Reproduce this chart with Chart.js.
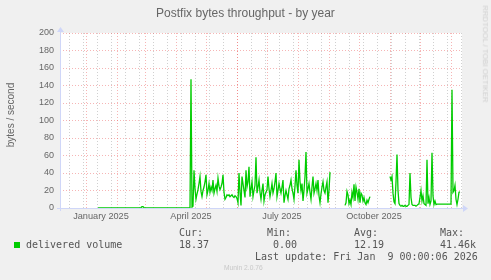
<!DOCTYPE html>
<html><head><meta charset="utf-8">
<script src="https://cdn.jsdelivr.net/npm/chart.js@4/dist/chart.umd.min.js"></script>
<style>
html,body{margin:0;padding:0;background:#f0f0f0;}
#wrap{position:relative;width:491px;height:280px;overflow:hidden;background:#f0f0f0;}
canvas{position:absolute;left:0;top:0;}
.t{position:absolute;white-space:pre;line-height:1;color:#666;}
.s{font-family:"Liberation Sans",Arial,sans-serif;}
.m{font-family:"DejaVu Sans Mono",monospace;font-size:10px;color:#555;}
</style></head><body>
<div id="wrap">
<canvas id="c" width="491" height="280"></canvas>
<div class="t s" style="left:0;width:491px;text-align:center;top:6.5px;font-size:12px;">Postfix bytes throughput - by year</div>
<div class="t s" style="left:10.5px;top:115px;font-size:10px;transform:translate(-50%,-50%) rotate(-90deg);">bytes / second</div>
<div class="t s" style="left:485px;top:54px;font-size:7.7px;color:#cfcfcf;transform:translate(-50%,-50%) rotate(90deg);">RRDTOOL / TOBI OETIKER</div>
<div style="position:absolute;left:14px;top:242px;width:6px;height:6px;background:#00cc00;"></div>
<div class="t m" id="lgName" style="left:26px;top:240px;"></div>
<div class="t m" style="left:179px;top:228px;">Cur:</div>
<div class="t m" style="left:267px;top:228px;">Min:</div>
<div class="t m" style="left:354px;top:228px;">Avg:</div>
<div class="t m" style="left:440px;top:228px;">Max:</div>
<div class="t m" id="vCur" style="left:179px;top:240px;"></div>
<div class="t m" id="vMin" style="left:273px;top:240px;"></div>
<div class="t m" id="vAvg" style="left:354px;top:240px;"></div>
<div class="t m" id="vMax" style="left:440px;top:240px;"></div>
<div class="t m" style="left:255px;top:252px;">Last update: Fri Jan  9 00:00:06 2026</div>
<div class="t s" style="left:224px;top:265px;font-size:6.7px;color:#c8c8c8;">Munin 2.0.76</div>
</div>
<script>
// ---- data (one value per day, starting at firstDay days after 2024-12-06) ----
const seriesName = 'delivered volume';
const seriesColor = '#00cc00';
const firstDay = 38;
const zerosJanToMar = [
  0,0,0,0,0,0,0,0,0,0, 0,0,0,0,0,0,0,0,0,0, 0,0,0,0,0,0,0,0,0,0, 0,0,0,0,0,0,0,0,0,0, 0,0,0,
  0.5,1.5,1.5,0.5,
  0,0,0,0,0,0,0,0,0,0, 0,0,0,0,0,0,0,0,0,0, 0,0,0,0,0,0,0,0,0,0, 0,0,0,0,0,0,0,0,0,0, 0,0,0,0,0,0
];
const aprToAug = [
  147,1,2,43,22,10,16,21,28,36,
  19,13,20,24,30,38,15,20,28,18,
  24,20,32,17,22,26,19,34,25,21,
  24,28,38,18,10,12,15,14,15,13,
  14,15,13,12,14,13,11,6,40,18,
  3,36,28,20,12,43,24,30,47,13,
  22,30,13,20,26,58,17,24,32,18,
  10,20,28,8,15,18,21,36,22,13,
  20,28,17,22,30,40,13,20,28,22,
  17,24,32,6,14,20,15,10,22,26,
  32,22,17,10,25,43,26,17,55,30,
  20,28,8,20,36,64,17,22,28,18,
  10,24,36,17,22,28,20,32,14,6,
  16,24,30,20,17,24,30,6,20,41
];
const gapSep = [null,null,null,null,null,null,null,null,null,null,null,null,null,null];
const sepToOct = [3,6,19,15,5,9,4,18,12,27,8,24,18,10,22,6,17,15,8,12,6,4,9,6,10,13];
const gapOct = [null,null,null,null,null,null,null,null,null,null,null,null,null,null,null,null,null,null,null];
const novToJan = [
  36,32,36,17,7,5,30,61,20,5,
  3,2,3,2,2,3,2,2,3,4,
  40,12,4,3,3,3,2,3,4,5,
  12,20,8,14,5,4,3,55,5,12,
  4,8,63,14,4,8,4,4.5,4.5,4.5,
  4.5,4.5,4.5,4.5,4.5,4.5,4.5,4.5,4.5,4.5,
  4.5,4.5,135,18,20,26,10,4,10,18,
  18.37
];
const statLabels = ['Cur:', 'Min:', 'Avg:', 'Max:'];
const statValues = ['18.37', '0.00', '12.19', '41.46k'];
const quarterLabels = ['January 2025', 'April 2025', 'July 2025', 'October 2025'];
const quarterStarts = [[2025,0],[2025,3],[2025,6],[2025,9]];

// ---- build ----
const values = [].concat(zerosJanToMar, aprToAug, gapSep, sepToOct, gapOct, novToJan);
const points = values.map((v, i) => ({x: firstDay + i, y: v}));

document.getElementById('lgName').textContent = seriesName;
document.getElementById('vCur').textContent = statValues[0];
document.getElementById('vMin').textContent = statValues[1];
document.getElementById('vAvg').textContent = statValues[2];
document.getElementById('vMax').textContent = statValues[3];

const startMs = Date.UTC(2024, 11, 6);
const DAY = 86400000;
const dayOf = (y, m, d) => Math.round((Date.UTC(y, m, d) - startMs) / DAY);
const X_MAX = 402;
const monthDays = [];
for (let k = 0; k < 14; k++) {
  const d = dayOf(2025, k, 1);
  if (d >= 0 && d <= X_MAX) monthDays.push(d);
}
const fortDays = [];
for (let d = dayOf(2024, 11, 1); d <= X_MAX; d += 14) if (d > 0) fortDays.push(d);
const labelMap = {};
quarterStarts.forEach((q, i) => { labelMap[dayOf(q[0], q[1], 1) + 15] = quarterLabels[i]; });
const monthSet = new Set(monthDays), fortSet = new Set(fortDays.filter(d => !monthDays.includes(d)));

const GRID = 'rgba(150,150,150,0.45)';
const MGRID = 'rgba(235,90,90,0.45)';
const AXIS = '#CFD6F8';

const bgPlugin = {
  id: 'bg',
  beforeDraw(chart) {
    const {ctx, chartArea: a} = chart;
    ctx.save();
    ctx.fillStyle = '#ffffff';
    ctx.fillRect(a.left, a.top, a.right - a.left, a.bottom - a.top);
    ctx.restore();
  }
};
const axisPlugin = {
  id: 'axes',
  beforeDatasetsDraw(chart) {
    const {ctx, chartArea: a} = chart;
    ctx.save();
    ctx.strokeStyle = AXIS; ctx.fillStyle = AXIS; ctx.lineWidth = 1;
    ctx.beginPath();
    ctx.moveTo(a.left - 3, a.bottom + 0.5); ctx.lineTo(a.right + 2, a.bottom + 0.5);
    ctx.moveTo(a.left + 0.5, a.bottom + 3); ctx.lineTo(a.left + 0.5, a.top - 2);
    ctx.stroke();
    ctx.beginPath();
    ctx.moveTo(a.right + 6, a.bottom + 0.5); ctx.lineTo(a.right + 1, a.bottom - 3); ctx.lineTo(a.right + 1, a.bottom + 4); ctx.closePath();
    ctx.fill();
    ctx.beginPath();
    ctx.moveTo(a.left + 0.5, a.top - 6); ctx.lineTo(a.left - 3, a.top - 1); ctx.lineTo(a.left + 4, a.top - 1); ctx.closePath();
    ctx.fill();
    ctx.restore();
  }
};

new Chart(document.getElementById('c'), {
  type: 'line',
  data: { datasets: [{
    label: seriesName, data: points, borderColor: seriesColor, borderWidth: 1.3,
    pointRadius: 0, tension: 0, spanGaps: false, fill: false
  }]},
  options: {
    responsive: false, animation: false, devicePixelRatio: 1,
    layout: { padding: { left: 0, right: 29, top: 33, bottom: 0 } },
    plugins: { legend: { display: false }, title: { display: false }, tooltip: { enabled: false } },
    scales: {
      x: {
        type: 'linear', min: 0, max: X_MAX,
        afterFit(s) { s.height = 72; },
        afterBuildTicks(s) {
          const vals = [...monthDays, ...fortDays, ...Object.keys(labelMap).map(Number)];
          vals.sort((a, b) => a - b);
          s.ticks = vals.map(v => ({value: v}));
        },
        ticks: {
          autoSkip: false, maxRotation: 0, minRotation: 0, padding: 3,
          color: '#666', font: { family: '"Liberation Sans", Arial, sans-serif', size: 9.2 },
          callback: (v) => labelMap[v] || ''
        },
        grid: {
          drawTicks: false,
          color: (c) => { const v = c.tick ? c.tick.value : -1; return monthSet.has(v) ? MGRID : (fortSet.has(v) ? GRID : 'rgba(0,0,0,0)'); }
        },
        border: { display: false, dash: [1, 2] }
      },
      y: {
        min: 0, max: 200,
        afterFit(s) { s.width = 60; },
        ticks: {
          stepSize: 10, padding: 6, color: '#666',
          font: { family: '"Liberation Sans", Arial, sans-serif', size: 9 },
          callback: (v) => (v % 20 === 0 ? String(v) : '')
        },
        grid: {
          drawTicks: false,
          color: (c) => { const v = c.tick ? c.tick.value : 0; return v === 0 ? 'rgba(0,0,0,0)' : (v % 20 === 0 ? MGRID : GRID); }
        },
        border: { display: false, dash: [1, 2] }
      }
    }
  },
  plugins: [bgPlugin, axisPlugin]
});
</script>
</body></html>
